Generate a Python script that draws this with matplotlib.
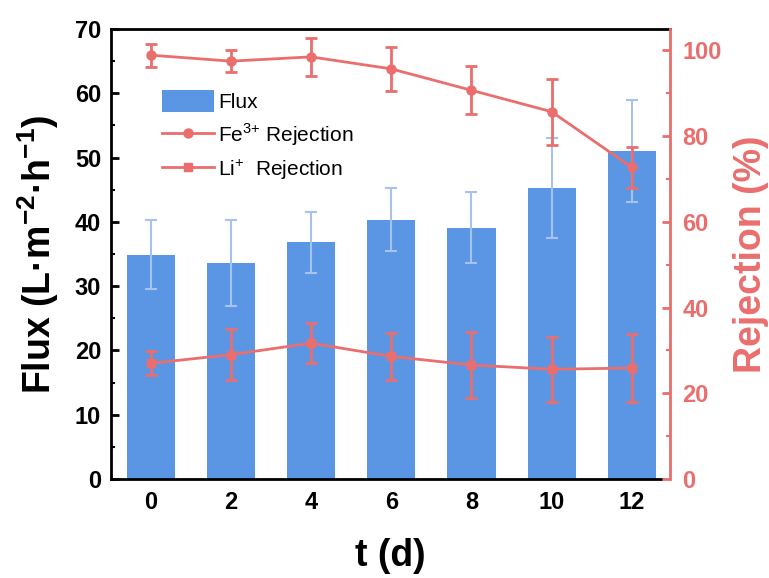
import matplotlib.pyplot as plt
from matplotlib.ticker import MultipleLocator
from matplotlib.lines import Line2D
from matplotlib.patches import Patch

plt.rcParams['font.family'] = ['Liberation Sans', 'DejaVu Sans']
plt.rcParams['mathtext.fontset'] = 'custom'
plt.rcParams['mathtext.rm'] = 'Liberation Sans'
plt.rcParams['mathtext.bf'] = 'Liberation Sans:bold'

t = [0, 2, 4, 6, 8, 10, 12]
flux = [34.9, 33.6, 36.8, 40.3, 39.1, 45.3, 51.0]
flux_err = [5.4, 6.7, 4.8, 4.9, 5.5, 7.8, 7.9]
fe_rej = [98.9, 97.5, 98.5, 95.7, 90.7, 85.7, 72.7]
fe_err = [2.7, 2.5, 4.4, 5.2, 5.6, 7.7, 4.8]
li_rej = [27.0, 29.0, 31.7, 28.6, 26.6, 25.6, 25.9]
li_err = [2.8, 5.9, 4.6, 5.5, 7.6, 7.6, 8.0]

blue = '#5b96e5'
blue_err = '#a6c3ee'
red = '#ea6e6e'

fig = plt.figure(figsize=(7.69, 5.78), dpi=100)
ax = fig.add_axes([0.1443, 0.1713, 0.7269, 0.7785])

ax.bar(t, flux, width=1.2, color=blue, zorder=2)
ax.errorbar(t, flux, yerr=flux_err, fmt='none', ecolor=blue_err,
            elinewidth=1.5, capsize=4.5, capthick=1.5, zorder=3)
ax.set_xlim(-0.99, 12.95)
ax.set_ylim(0, 70)
ax.set_xticks(t)
ax.yaxis.set_major_locator(MultipleLocator(10))
ax.yaxis.set_minor_locator(MultipleLocator(5))
ax.tick_params(axis='x', which='major', direction='in', length=6, width=2,
               labelsize=17, pad=9)
ax.tick_params(axis='y', which='major', direction='in', length=6, width=2,
               labelsize=17, pad=7)
ax.tick_params(axis='y', which='minor', direction='in', length=3, width=1.5)
for lab in ax.get_xticklabels() + ax.get_yticklabels():
    lab.set_fontweight('bold')
for s in ['left', 'bottom', 'top']:
    ax.spines[s].set_linewidth(2)
ax.spines['bottom'].set_bounds(-0.99, 12.72)
ax.spines['right'].set_visible(False)
ax.set_xlabel('t (d)', fontsize=27, fontweight='bold', labelpad=17)
ax.set_ylabel(r'Flux (L·m$^{\mathbf{-2}}$·h$^{\mathbf{-1}}$)',
              fontsize=27, fontweight='bold', labelpad=10)

ax2 = ax.twinx()
ax2.errorbar(t, fe_rej, yerr=fe_err, color=red, marker='o', markersize=6.5,
             linewidth=2, elinewidth=2, capsize=4.5, capthick=2, zorder=4)
ax2.errorbar(t, li_rej, yerr=li_err, color=red, marker='s', markersize=6,
             linewidth=2, elinewidth=2, capsize=4.5, capthick=2, zorder=4)
ax2.set_ylim(0, 105)
ax2.yaxis.set_major_locator(MultipleLocator(20))
ax2.yaxis.set_minor_locator(MultipleLocator(10))
ax2.tick_params(axis='y', which='major', direction='in', length=6, width=2,
                colors=red, labelsize=17, pad=9)
ax2.tick_params(axis='y', which='minor', direction='in', length=3, width=1.5,
                colors=red)
for lab in ax2.get_yticklabels():
    lab.set_fontweight('bold')
ax2.spines['right'].set_color(red)
ax2.spines['right'].set_linewidth(2)
for s in ['left', 'bottom', 'top']:
    ax2.spines[s].set_visible(False)
ax2.set_ylabel('Rejection (%)', fontsize=27, fontweight='bold', color=red,
               labelpad=8)

handles = [
    Patch(facecolor=blue),
    Line2D([], [], color=red, marker='o', markersize=6.5, linewidth=2),
    Line2D([], [], color=red, marker='s', markersize=6, linewidth=2),
]
labels = ['Flux', r'Fe$^{3{+}}$ Rejection', r'Li$^{{+}}$  Rejection']
ax2.legend(handles, labels, loc='upper left', bbox_to_anchor=(0.091, 0.864),
           frameon=False, fontsize=15, handlelength=2.5, handleheight=1.2,
           labelspacing=0.45, handletextpad=0.2, borderpad=0,
           borderaxespad=0)

fig.savefig('out.png', dpi=100)
